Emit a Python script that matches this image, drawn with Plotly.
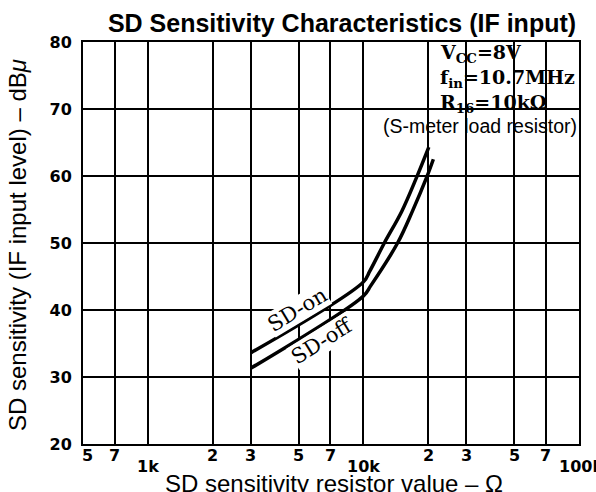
import math
import plotly.graph_objects as go

# ---- data ----
sd_on_r = [3000, 10000, 10700, 12500, 15050, 17700, 20100]
sd_on_db = [33.6, 44.2, 45.8, 50.0, 54.7, 59.9, 64.3]
sd_off_r = [3000, 10000, 10800, 14400, 16900, 19700, 21100]
sd_off_db = [31.3, 42.1, 43.6, 50.0, 54.8, 59.9, 62.5]

x_grid_vals = [700, 1000, 2000, 3000, 5000, 7000, 10000, 20000, 30000, 50000, 70000]
x_tick_vals = [500, 700, 1000, 2000, 3000, 5000, 7000, 10000, 20000, 30000, 50000, 70000, 100000]
x_tick_text = ['5', '7', '1k', '2', '3', '5', '7', '10k', '2', '3', '5', '7', '100k']
y_tick_vals = [20, 30, 40, 50, 60, 70, 80]

X0, X1 = 83, 579
Y0, Y1 = 42, 444
W, H = 596, 492

def px(xp):
    return (xp - X0) / (X1 - X0)

def py(yp):
    return (Y1 - yp) / (Y1 - Y0)

fig = go.Figure()
line_style = dict(color='black', width=3.5, shape='spline', smoothing=1.0)
fig.add_trace(go.Scatter(x=sd_on_r, y=sd_on_db, mode='lines', line=line_style, name='SD-on'))
fig.add_trace(go.Scatter(x=sd_off_r, y=sd_off_db, mode='lines', line=line_style, name='SD-off'))

annotations = []
tick_font = dict(family='DejaVu Sans', size=16, color='black')
for v, t in zip(x_tick_vals, x_tick_text):
    low = t.endswith('k')
    xs = 0
    if v == 500:
        xs = 4
    if v == 100000:
        xs = 2
    annotations.append(dict(x=math.log10(v), y=0, xref='x', yref='paper', text='<b>%s</b>' % t,
                            showarrow=False, xanchor='center', yanchor='middle',
                            yshift=-22 if low else -11, xshift=xs, font=tick_font))

serif = dict(family='DejaVu Serif', size=19, color='black')
annotations += [
    dict(x=px(438), y=py(54), xref='paper', yref='paper', xanchor='left', yanchor='middle',
         text='<b>V<sub>CC</sub>=8V</b>', showarrow=False, font=serif),
    dict(x=px(438), y=py(78), xref='paper', yref='paper', xanchor='left', yanchor='middle',
         text='<b>f<sub>in</sub>=10.7MHz</b>', showarrow=False, font=serif),
    dict(x=px(438), y=py(103), xref='paper', yref='paper', xanchor='left', yanchor='middle',
         text='<b>R<sub>16</sub>=10kΩ</b>', showarrow=False, font=serif),
    dict(x=px(480), y=py(126), xref='paper', yref='paper', xanchor='center', yanchor='middle',
         text='(S-meter load resistor)', showarrow=False,
         font=dict(family='Liberation Sans', size=19.5, color='black')),
    dict(x=math.log10(4920), y=40.0, xref='x', yref='y', text='SD-on', textangle=-31,
         showarrow=False, bgcolor='white', borderpad=0,
         font=dict(family='DejaVu Serif', size=21, color='black')),
    dict(x=math.log10(6430), y=35.4, xref='x', yref='y', text='SD-off', textangle=-32,
         showarrow=False, bgcolor='white', borderpad=0,
         font=dict(family='DejaVu Serif', size=21, color='black')),
    dict(x=px(334), y=py(483), xref='paper', yref='paper', text='SD sensitivity resistor value – Ω',
         showarrow=False, xanchor='center', yanchor='middle',
         font=dict(family='Liberation Sans', size=24, color='black')),
    dict(x=px(17), y=py(245), xref='paper', yref='paper', text='SD sensitivity (IF input level) – dB<i>μ</i>',
         showarrow=False, textangle=-90, xanchor='center', yanchor='middle',
         font=dict(family='Liberation Sans', size=24, color='black')),
]

shapes = [
    dict(type='rect', xref='x', yref='y', x0=math.log10(20300), x1=5, y0=65.8, y1=80,
         fillcolor='white', line=dict(width=0), layer='between'),
    dict(type='rect', xref='x', yref='y', x0=math.log10(11900), x1=math.log10(20300), y0=65.8, y1=68.9,
         fillcolor='white', line=dict(width=0), layer='between'),
]

fig.update_layout(
    width=W, height=H,
    margin=dict(l=X0, r=W - X1, t=Y0, b=H - Y1, pad=0),
    paper_bgcolor='white', plot_bgcolor='white',
    showlegend=False,
    title=dict(text='<b>SD Sensitivity Characteristics (IF input)</b>', x=342 / W, xanchor='center',
               y=1 - 23 / H, yanchor='middle', xref='container', yref='container',
               font=dict(family='Liberation Sans', size=25, color='black')),
    annotations=annotations,
    shapes=shapes,
)
fig.update_xaxes(type='log', range=[math.log10(500), 5], tickvals=x_grid_vals, showticklabels=False,
                 showgrid=True, gridcolor='black', gridwidth=1.5, ticks='',
                 showline=True, linecolor='black', linewidth=2, mirror=True, zeroline=False)
fig.update_yaxes(range=[20, 80], tickvals=y_tick_vals, ticktext=['<b>%d</b>' % v for v in y_tick_vals],
                 showgrid=True, gridcolor='black', gridwidth=1.5, ticks='', ticklabelstandoff=6,
                 tickfont=dict(family='DejaVu Sans', size=16, color='black'),
                 showline=True, linecolor='black', linewidth=2, mirror=True, zeroline=False)

fig.write_html('out.html', config={'displayModeBar': False},
               post_script="document.body.style.margin='0';document.body.style.overflow='hidden';")
